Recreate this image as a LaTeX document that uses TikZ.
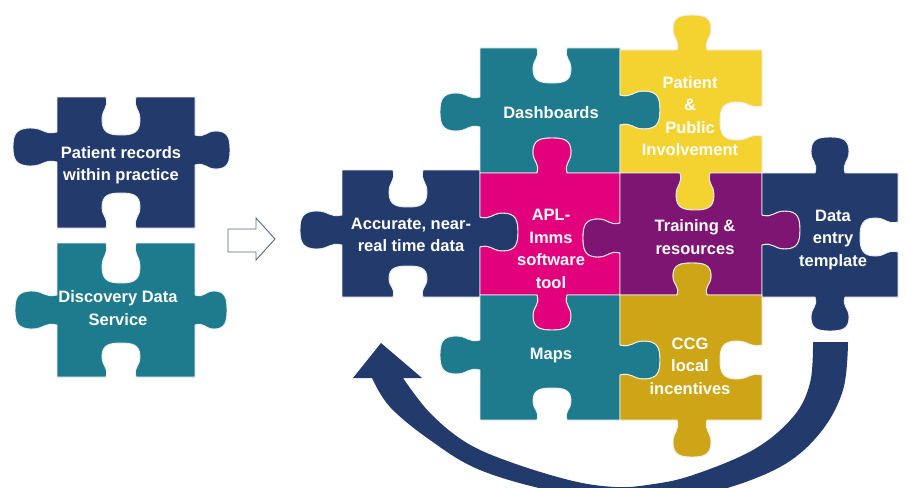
\documentclass[tikz,border=0pt]{standalone}
\usepackage{fontspec}
\setmainfont{Liberation Sans}
\definecolor{cnavy}{HTML}{233B6C}
\definecolor{cteal}{HTML}{1E7B8E}
\definecolor{cpink}{HTML}{E3007D}
\definecolor{cyellow}{HTML}{F4D230}
\definecolor{cpurple}{HTML}{7E1572}
\definecolor{cgold}{HTML}{CDA516}
\definecolor{carrow}{HTML}{5A6785}
\def\na{15}
\def\nb{19}
% horizontal side feature: centre c, side y, direction dir, signed depth s
\newcommand\hf[4]{-- ({#1-(#3)*\na},{#2}) .. controls ({#1-(#3)*\na*0.8},{#2+(#4)*0.3}) and ({#1-(#3)*\nb},{#2+(#4)*0.3}) .. ({#1-(#3)*\nb},{#2+(#4)*0.6}) .. controls ({#1-(#3)*\nb},{#2+(#4)*0.95}) and ({#1-(#3)*\nb*0.6},{#2+(#4)}) .. ({#1},{#2+(#4)}) .. controls ({#1+(#3)*\nb*0.6},{#2+(#4)}) and ({#1+(#3)*\nb},{#2+(#4)*0.95}) .. ({#1+(#3)*\nb},{#2+(#4)*0.6}) .. controls ({#1+(#3)*\nb},{#2+(#4)*0.3}) and ({#1+(#3)*\na*0.8},{#2+(#4)*0.3}) .. ({#1+(#3)*\na},{#2})}
% vertical side feature: centre c, side x, direction dir, signed depth s
\newcommand\vf[4]{-- ({#2},{#1-(#3)*\na}) .. controls ({#2+(#4)*0.3},{#1-(#3)*\na*0.8}) and ({#2+(#4)*0.3},{#1-(#3)*\nb}) .. ({#2+(#4)*0.6},{#1-(#3)*\nb}) .. controls ({#2+(#4)*0.95},{#1-(#3)*\nb}) and ({#2+(#4)},{#1-(#3)*\nb*0.6}) .. ({#2+(#4)},{#1}) .. controls ({#2+(#4)},{#1+(#3)*\nb*0.6}) and ({#2+(#4)*0.95},{#1+(#3)*\nb}) .. ({#2+(#4)*0.6},{#1+(#3)*\nb}) .. controls ({#2+(#4)*0.3},{#1+(#3)*\nb}) and ({#2+(#4)*0.3},{#1+(#3)*\na*0.8}) .. ({#2},{#1+(#3)*\na})}
\begin{document}
\begin{tikzpicture}[x=1pt,y=-1pt,
  pc/.style={draw=white!88!gray, line width=0.9pt, line join=round},
  lbl/.style={text=white, font=\fontsize{16.5}{22.5}\selectfont\bfseries, align=center, inner sep=0pt}]
\useasboundingbox (0,0) rectangle (907,487);
\fill[white] (0,0) rectangle (907,487);
% ---- left pieces ----
\filldraw[cnavy,pc] (57,97) \hf{121}{97}{1}{38} -- (195,97) \vf{150}{195}{1}{35} -- (195,228) \hf{121}{228}{-1}{-35} -- (57,228) \vf{147}{57}{-1}{-44} -- cycle;
\filldraw[cteal,pc] (57,243) \hf{121}{243}{1}{40} -- (195,243) \vf{310}{195}{1}{32} -- (195,377) \hf{121}{377}{-1}{-34} -- (57,377) \vf{310}{57}{-1}{-42} -- cycle;
\node[lbl] (precs) at (121,165) {Patient records\\within practice};
\node[lbl] (dds) at (118,308) {Discovery Data\\Service};
% ---- hollow arrow ----
\draw[carrow, fill=white, line width=0.9pt, line join=miter] (228,229) -- (256,229) -- (256,218) -- (275,239) -- (256,260) -- (256,252) -- (228,252) -- cycle;
% ---- curved arrow ----
\begin{scope}
\clip (0,0) rectangle (907,487);
\fill[cnavy] plot[smooth, tension=0.6] coordinates {(848,342) (843,390) (820,433) (780,467) (713,492) (640,503) (557,492) (480,470) (430,440) (390,407) (372,378)} -- (353,378) -- (381,343) -- (422,378) -- (403,378) -- plot[smooth, tension=0.6] coordinates {(403,378) (430,413) (467,443) (513,463) (573,481) (615,487) (647,485) (690,476) (753,450) (793,417) (810,383) (813,342)} -- cycle;
\end{scope}
% ---- right cluster ----
% Accurate
\filldraw[cnavy,pc] (342,170) \hf{408}{170}{1}{37} -- (480,170) \vf{232}{480}{1}{38} -- (480,297) \hf{408}{297}{-1}{-31} -- (342,297) \vf{230}{342}{-1}{-42} -- cycle;
% Dashboards
\filldraw[cteal,pc] (480,48) \hf{552}{48}{1}{35} -- (620,48) \vf{110}{620}{1}{40} -- (620,173) \hf{552}{173}{-1}{-35} -- (480,173) \vf{112}{480}{-1}{-40} -- cycle;
% Patient & Public Involvement
\filldraw[cyellow,pc] (620,50) \hf{692}{50}{1}{-35} -- (762,50) \vf{121}{762}{1}{-42} -- (762,173) \hf{695}{173}{-1}{37} -- (620,173) \vf{110}{620}{-1}{40} -- cycle;
% APL-Imms
\filldraw[cpink,pc] (480,173) \hf{552}{173}{1}{-35} -- (620,173) \vf{238}{620}{1}{-37} -- (620,295) \hf{552}{295}{-1}{35} -- (480,295) \vf{232}{480}{-1}{38} -- cycle;
% Training
\filldraw[cpurple,pc] (620,173) \hf{695}{173}{1}{37} -- (762,173) \vf{230}{762}{1}{38} -- (762,295) \hf{692}{295}{-1}{-32} -- (620,295) \vf{238}{620}{-1}{-37} -- cycle;
% Data entry
\filldraw[cnavy,pc] (762,173) \hf{830}{173}{1}{-36} -- (898,173) \vf{237}{898}{1}{-38} -- (898,297) \hf{830}{297}{-1}{34} -- (762,297) \vf{230}{762}{-1}{38} -- cycle;
% Maps
\filldraw[cteal,pc] (480,295) \hf{552}{295}{1}{35} -- (620,295) \vf{360}{620}{1}{40} -- (620,420) \hf{552}{420}{-1}{-32} -- (480,420) \vf{355}{480}{-1}{-40} -- cycle;
% CCG
\filldraw[cgold,pc] (620,295) \hf{692}{295}{1}{-32} -- (762,295) \vf{360}{762}{1}{-42} -- (762,420) \hf{692}{420}{-1}{37} -- (620,420) \vf{360}{620}{-1}{40} -- cycle;
% labels
\node[lbl] (acc) at (411,235) {Accurate, near-\\real time data};
\node[lbl] (dash) at (551,113) {Dashboards};
\node[lbl] (ppi) at (690,116) {Patient\\\&\\Public\\Involvement};
\node[lbl] (apl) at (551,249) {APL-\\Imms\\software\\tool};
\node[lbl] (train) at (695,237) {Training \&\\resources};
\node[lbl] (dent) at (833,240) {Data\\entry\\template};
\node[lbl] (maps) at (551,356) {Maps};
\node[lbl] (ccg) at (690,366) {CCG\\local\\incentives};
\end{tikzpicture}
\end{document}
